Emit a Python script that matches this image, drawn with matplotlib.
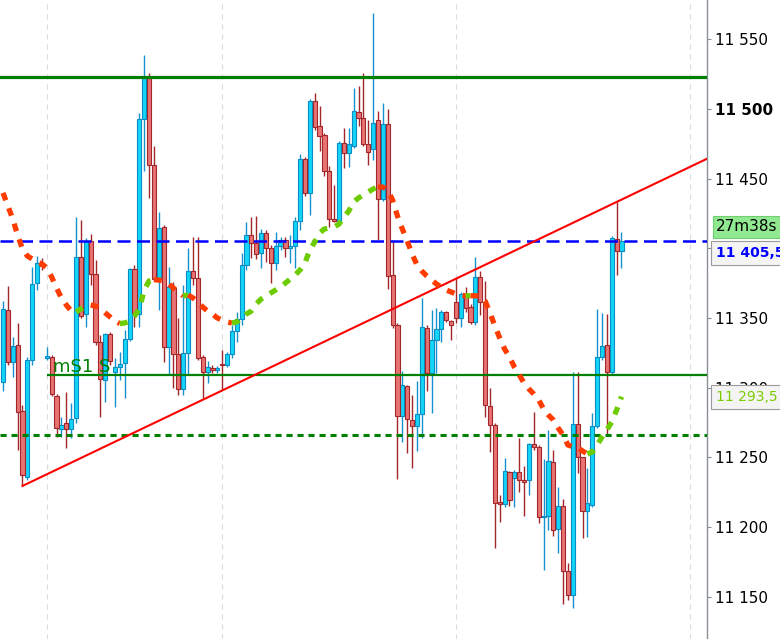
import matplotlib
matplotlib.use("Agg")
import matplotlib.pyplot as plt
import matplotlib.transforms as mtransforms
import numpy as np

# candles (15 min)
opens = [
    11304.0, 11355.7, 11318.4, 11330.6, 11283.2, 11235.8, 11319.8, 11375.1, 11389.5, 11321.3,
    11322.0, 11294.0, 11270.3, 11274.6, 11270.3, 11278.2, 11393.8, 11352.9, 11405.3, 11381.6,
    11332.8, 11305.5, 11338.5, 11311.2, 11314.8, 11317.7, 11334.9, 11385.2, 11352.9, 11492.9,
    11522.3, 11459.9, 11378.0, 11415.3, 11329.2, 11371.5, 11324.2, 11299.0, 11324.9, 11383.7,
    11378.7, 11322.0, 11311.2, 11314.1, 11312.7, 11316.6, 11316.3, 11324.2, 11340.7, 11349.3,
    11388.1, 11409.6, 11403.9, 11396.7, 11411.0, 11400.3, 11389.5, 11401.7, 11406.0, 11400.3,
    11401.7, 11419.6, 11464.2, 11439.8, 11505.8, 11487.9, 11481.4, 11455.5, 11421.1, 11419.6,
    11475.6, 11468.5, 11473.5, 11497.9, 11493.6, 11474.9, 11471.3, 11492.2, 11435.4, 11489.3,
    11380.9, 11345.0, 11279.6, 11301.2, 11276.8, 11272.5, 11281.1, 11342.8, 11310.5, 11334.2,
    11342.1, 11354.3, 11347.8, 11361.5, 11350.0, 11365.8, 11357.9, 11347.1, 11379.4, 11361.5,
    11286.8, 11273.2, 11217.9, 11216.5, 11239.4, 11235.1, 11239.4, 11233.7, 11233.7, 11259.5,
    11257.4, 11207.1, 11207.8, 11246.6, 11198.5, 11215.0, 11168.3, 11151.1, 11273.9, 11250.2,
    11211.4, 11215.7, 11272.5, 11322.0, 11330.6, 11311.2, 11406.7, 11398.1]
highs = [
    11362.2, 11373.0, 11336.4, 11346.4, 11287.5, 11322.0, 11386.6, 11394.5, 11393.1, 11329.2,
    11323.4, 11295.4, 11278.9, 11296.9, 11289.0, 11422.5, 11420.4, 11407.4, 11410.3, 11391.6,
    11337.8, 11339.2, 11340.0, 11321.3, 11325.6, 11341.4, 11385.9, 11388.1, 11497.2, 11538.8,
    11525.9, 11473.5, 11426.1, 11416.8, 11386.6, 11375.8, 11350.0, 11373.7, 11400.3, 11408.2,
    11408.2, 11323.4, 11319.1, 11316.3, 11315.5, 11327.0, 11325.6, 11345.0, 11354.3, 11396.7,
    11418.9, 11422.5, 11423.2, 11413.9, 11413.2, 11402.4, 11411.7, 11408.2, 11408.2, 11409.6,
    11422.5, 11467.8, 11465.6, 11507.2, 11511.5, 11502.2, 11482.8, 11459.1, 11445.5, 11477.1,
    11486.4, 11486.4, 11515.1, 11516.6, 11525.9, 11492.2, 11569.0, 11498.6, 11504.4, 11500.1,
    11406.0, 11346.4, 11311.9, 11301.9, 11294.7, 11304.8, 11364.4, 11345.0, 11355.7, 11357.2,
    11355.7, 11355.0, 11348.6, 11378.7, 11368.7, 11372.3, 11360.1, 11393.8, 11383.7, 11376.6,
    11299.7, 11274.6, 11222.9, 11249.5, 11240.1, 11240.9, 11263.8, 11243.7, 11260.2, 11282.5,
    11258.8, 11248.8, 11269.6, 11255.2, 11228.7, 11220.0, 11174.1, 11311.2, 11311.2, 11250.2,
    11242.3, 11281.8, 11356.5, 11353.6, 11352.9, 11408.9, 11433.3, 11411.7]
lows = [
    11297.6, 11316.3, 11307.6, 11255.2, 11229.4, 11233.7, 11316.3, 11370.1, 11384.5, 11319.8,
    11294.0, 11264.6, 11264.6, 11256.7, 11263.8, 11274.6, 11350.0, 11343.5, 11373.7, 11330.6,
    11278.9, 11289.7, 11316.3, 11286.1, 11305.5, 11292.6, 11333.5, 11343.5, 11343.5, 11455.5,
    11436.2, 11376.6, 11355.7, 11318.4, 11309.1, 11299.7, 11294.7, 11294.7, 11309.1, 11373.7,
    11319.8, 11292.6, 11303.3, 11310.5, 11310.5, 11298.3, 11314.8, 11321.3, 11332.8, 11345.0,
    11384.5, 11393.1, 11392.4, 11385.9, 11390.2, 11375.1, 11384.5, 11398.8, 11393.8, 11389.5,
    11385.9, 11413.2, 11437.6, 11424.0, 11485.0, 11469.9, 11452.0, 11415.3, 11418.9, 11418.9,
    11457.7, 11458.4, 11472.1, 11487.9, 11473.5, 11459.9, 11463.4, 11406.0, 11434.0, 11370.8,
    11342.8, 11234.4, 11261.0, 11253.1, 11242.3, 11254.5, 11263.8, 11297.6, 11281.8, 11310.5,
    11332.8, 11347.1, 11334.2, 11346.4, 11343.5, 11354.3, 11345.7, 11345.0, 11352.2, 11278.9,
    11253.8, 11184.9, 11203.5, 11214.3, 11215.0, 11214.3, 11225.1, 11207.8, 11222.9, 11255.2,
    11202.8, 11169.0, 11197.8, 11193.5, 11181.3, 11144.7, 11147.5, 11141.8, 11238.7, 11192.0,
    11192.8, 11214.3, 11271.0, 11319.8, 11266.0, 11309.8, 11380.9, 11385.9]
closes = [
    11356.5, 11318.4, 11329.9, 11282.5, 11237.3, 11319.8, 11374.4, 11389.5, 11387.3, 11322.7,
    11295.4, 11271.0, 11273.2, 11270.3, 11277.5, 11393.8, 11351.4, 11405.3, 11381.6, 11332.8,
    11306.2, 11338.5, 11319.1, 11314.8, 11317.0, 11334.9, 11385.2, 11353.6, 11492.9, 11522.3,
    11459.9, 11378.0, 11414.6, 11329.2, 11372.3, 11324.2, 11299.0, 11324.9, 11383.7, 11378.7,
    11321.3, 11311.2, 11314.8, 11312.7, 11314.1, 11315.9, 11324.2, 11340.7, 11349.3, 11388.1,
    11409.6, 11403.9, 11396.0, 11411.0, 11400.3, 11389.5, 11401.7, 11406.0, 11400.3, 11401.7,
    11419.6, 11464.2, 11439.8, 11505.8, 11487.1, 11480.7, 11455.5, 11421.1, 11419.6, 11475.6,
    11468.5, 11474.9, 11498.6, 11493.6, 11474.9, 11469.2, 11490.0, 11435.4, 11489.3, 11380.2,
    11345.0, 11279.6, 11301.9, 11277.5, 11272.5, 11281.1, 11343.5, 11310.5, 11334.2, 11342.1,
    11354.3, 11348.6, 11345.0, 11350.0, 11367.2, 11357.2, 11347.1, 11379.4, 11361.5, 11287.5,
    11273.2, 11217.2, 11216.5, 11240.1, 11219.3, 11239.4, 11233.7, 11232.2, 11259.5, 11257.4,
    11207.1, 11207.8, 11247.3, 11197.8, 11215.0, 11168.3, 11151.1, 11273.9, 11250.2, 11211.4,
    11217.2, 11272.5, 11322.0, 11329.9, 11311.2, 11407.4, 11398.1, 11405.5]

# moving average, one value per candle
ma = [
    11439.8, 11430.5, 11421.1, 11409.6, 11399.5, 11394.5, 11392.4, 11390.2, 11388.8, 11385.9,
    11379.4, 11371.5, 11364.4, 11359.3, 11355.0, 11354.3, 11356.5, 11358.6, 11359.3, 11358.6,
    11356.5, 11353.6, 11350.7, 11347.8, 11346.0, 11346.4, 11347.8, 11351.4, 11356.5, 11370.1,
    11376.6, 11377.5, 11377.2, 11376.6, 11374.4, 11371.5, 11368.7, 11365.8, 11366.5, 11364.4,
    11361.5, 11357.9, 11355.0, 11352.9, 11350.0, 11348.6, 11347.1, 11346.4, 11347.1, 11350.0,
    11352.9, 11355.0, 11360.1, 11363.6, 11365.8, 11368.0, 11370.1, 11372.3, 11375.1, 11378.0,
    11380.9, 11384.5, 11389.5, 11398.8, 11404.6, 11411.0, 11413.9, 11414.6, 11415.3, 11417.5,
    11422.5, 11426.8, 11433.3, 11436.2, 11438.3, 11440.5, 11442.6, 11444.1, 11444.0, 11441.9,
    11434.7, 11423.2, 11413.9, 11405.3, 11396.0, 11388.1, 11383.7, 11380.2, 11377.3, 11374.4,
    11372.3, 11370.1, 11368.7, 11367.2, 11366.5, 11365.8, 11366.0, 11365.9, 11365.6, 11362.2,
    11353.6, 11344.3, 11335.6, 11327.7, 11322.0, 11314.8, 11309.1, 11303.3, 11299.0, 11295.4,
    11291.1, 11284.7, 11280.3, 11276.8, 11271.0, 11266.0, 11258.8, 11257.6, 11257.0, 11254.5,
    11252.4, 11253.8, 11258.8, 11264.6, 11269.6, 11275.3, 11283.9, 11293.5]

level_top = 11523.0
level_s1 = 11309.0
level_low = 11266.0
last_price = 11405.5
ma_last = 11293.5
trend_a = (4, 11229.4)
trend_b = (126, 11433.3)
grid_idx = [9, 45, 93, 141]
yticks = [11150, 11200, 11250, 11300, 11350, 11400, 11450, 11500, 11550]
s1_label = "mS1 S"
timer_label = "27m38s"

fig = plt.figure(figsize=(7.8, 6.39), dpi=100)
ax = fig.add_axes([0, 0, 707 / 780, 1])

x = np.arange(len(opens))
o = np.array(opens)
h = np.array(highs)
l = np.array(lows)
c = np.array(closes)
up = c >= o

# time grid
for g in grid_idx:
    ax.axvline(g, color="#d9d9de", lw=0.8, linestyle=(0, (4.5, 4.5)), zorder=1)

# wicks + bodies
ax.vlines(x[up], l[up], h[up], color="#1492d0", lw=1.0, zorder=2)
ax.vlines(x[~up], l[~up], h[~up], color="#a3262a", lw=1.0, zorder=2)
ax.bar(x[up], c[up] - o[up], bottom=o[up], width=0.86, color="#14d4f8",
       edgecolor="#0a8cc4", linewidth=0.8, zorder=3)
ax.bar(x[~up], c[~up] - o[~up], bottom=o[~up], width=0.86, color="#e87373",
       edgecolor="#a3262a", linewidth=0.8, zorder=3)

xmin, xmax = -0.616, 144.56

# levels
ax.axhline(level_top, color="#008000", lw=2.3, zorder=4)
ax.hlines(level_s1, grid_idx[0], xmax, color="#008000", lw=1.6, zorder=4)
ax.axhline(level_low, color="#008000", lw=2.2, linestyle=(0, (2.0, 1.6)), zorder=4)
ax.axhline(last_price, color="#0000ff", lw=1.8, linestyle=(0, (5.2, 2.6)), zorder=4)
ax.text(10.3, level_s1 + 2, s1_label, color="#008000", fontsize=13,
        va="baseline", ha="left", zorder=7)

# trend line (ray)
slope = (trend_b[1] - trend_a[1]) / (trend_b[0] - trend_a[0])
ax.plot([trend_a[0], xmax], [trend_a[1], trend_a[1] + slope * (xmax - trend_a[0])],
        color="#ff0000", lw=1.5, zorder=5)

# moving average, green when rising, red when falling
m = np.array(ma)
rising = np.diff(m) > 0
start = 0
for i in range(1, len(rising) + 1):
    if i == len(rising) or rising[i] != rising[start]:
        col = "#6ccc00" if rising[start] else "#ff3c00"
        ax.plot(x[start:i + 1], m[start:i + 1], color=col, lw=3.8,
                linestyle=(0, (1.5, 1.6)), dash_capstyle="butt", zorder=6)
        start = i

ax.set_xlim(xmin, xmax)
ax.set_ylim(11119.5, 11578.3)
ax.set_xticks([])
ax.yaxis.tick_right()
ax.set_yticks(yticks)
ax.set_yticklabels([f"{v:,}".replace(",", " ") for v in yticks])
for v, lab in zip(yticks, ax.get_yticklabels()):
    if v == 11500:
        lab.set_fontweight("bold")
ax.tick_params(axis="y", length=3, pad=3, color="#8a8f96", labelsize=11)
for s in ["left", "top", "bottom"]:
    ax.spines[s].set_visible(False)
ax.spines["right"].set_color("#8a8f96")
ax.spines["right"].set_linewidth(1.0)

# price tags on the axis
trans = mtransforms.blended_transform_factory(fig.transFigure, ax.transData)
tx = 716 / 780
ax.annotate(timer_label, xy=(tx, last_price), xycoords=trans, xytext=(0, 10),
            textcoords="offset points", va="center", ha="left", fontsize=11,
            color="black", zorder=8, annotation_clip=False,
            bbox=dict(boxstyle="square,pad=0.22", fc="#90e890", ec="#6fcf6f", lw=0.8))
ax.annotate(f"{last_price:,.1f}".replace(",", " ").replace(".", ","),
            xy=(tx, last_price), xycoords=trans, xytext=(0, -9),
            textcoords="offset points", va="center", ha="left", fontsize=10,
            fontweight="bold", color="#0000ff", zorder=8, annotation_clip=False,
            bbox=dict(boxstyle="square,pad=0.35", fc="#f4f4f4", ec="#9a9a9a", lw=0.8))
ax.annotate(f"{ma_last:,.1f}".replace(",", " ").replace(".", ","),
            xy=(tx, ma_last), xycoords=trans, xytext=(0, 0),
            textcoords="offset points", va="center", ha="left", fontsize=10,
            color="#7acc00", zorder=8, annotation_clip=False,
            bbox=dict(boxstyle="square,pad=0.35", fc="#f4f4f4", ec="#9a9a9a", lw=0.8))

fig.savefig("out.png", dpi=100)
